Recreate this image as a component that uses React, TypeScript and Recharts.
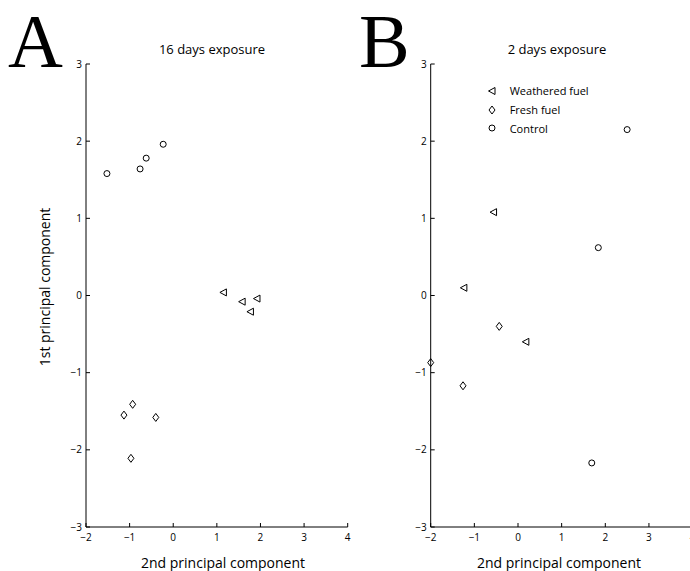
import React from 'react';
import { ScatterChart, Scatter, XAxis, YAxis, Legend } from 'recharts';

// axis ticks shared by both panels
const xTicks = [-2, -1, 0, 1, 2, 3, 4];
const yTicks = [-3, -2, -1, 0, 1, 2, 3];

// panel A - 16 days exposure
const weathered16 = [
  { x: 1.15, y: 0.04 },
  { x: 1.58, y: -0.08 },
  { x: 1.77, y: -0.21 },
  { x: 1.92, y: -0.04 },
];
const fresh16 = [
  { x: -0.93, y: -1.41 },
  { x: -1.13, y: -1.55 },
  { x: -0.4, y: -1.58 },
  { x: -0.97, y: -2.11 },
];
const control16 = [
  { x: -1.52, y: 1.58 },
  { x: -0.76, y: 1.64 },
  { x: -0.62, y: 1.78 },
  { x: -0.23, y: 1.96 },
];

// panel B - 2 days exposure
const weathered2 = [
  { x: -0.56, y: 1.08 },
  { x: -1.24, y: 0.1 },
  { x: 0.18, y: -0.6 },
];
const fresh2 = [
  { x: -0.43, y: -0.4 },
  { x: -2.0, y: -0.87 },
  { x: -1.26, y: -1.17 },
];
const control2 = [
  { x: 2.5, y: 2.15 },
  { x: 1.84, y: 0.62 },
  { x: 1.69, y: -2.17 },
];

const seriesNames = ['Weathered fuel', 'Fresh fuel', 'Control'];

const FONT = '"Open Sans", "DejaVu Sans", sans-serif';

const fmt = (v: number) => (v < 0 ? `\u2212${Math.abs(v)}` : `${v}`);

const CircleMark = ({ cx, cy }: any) => (
  <circle cx={cx} cy={cy} r={3} fill="none" stroke="#000" strokeWidth={1} />
);
const TriMark = ({ cx, cy }: any) => (
  <path
    d={`M${cx - 3.5},${cy} L${cx + 3},${cy - 3.5} L${cx + 3},${cy + 3.5} Z`}
    fill="none"
    stroke="#000"
    strokeWidth={1}
  />
);
const DiamondMark = ({ cx, cy }: any) => (
  <path
    d={`M${cx},${cy - 4} L${cx + 3},${cy} L${cx},${cy + 4} L${cx - 3},${cy} Z`}
    fill="none"
    stroke="#000"
    strokeWidth={1}
  />
);

// inward ticks, MATLAB style
const XTick = ({ x, y, payload }: any) => (
  <g>
    <line x1={x} x2={x} y1={y} y2={y - 4} stroke="#000" />
    <text x={x} y={y + 14} textAnchor="middle" fontSize={10} fontFamily={FONT} fill="#000">
      {fmt(payload.value)}
    </text>
  </g>
);
const YTick = ({ x, y, payload }: any) => (
  <g>
    <line x1={x} x2={x + 4} y1={y} y2={y} stroke="#000" />
    <text x={x - 4} y={y + 3.5} textAnchor="end" fontSize={10} fontFamily={FONT} fill="#000">
      {fmt(payload.value)}
    </text>
  </g>
);

const legendIcons: Record<string, any> = {
  'Weathered fuel': TriMark,
  'Fresh fuel': DiamondMark,
  Control: CircleMark,
};

const LegendBox = ({ payload }: any) => {
  const items = [...(payload || [])].sort(
    (a: any, b: any) => seriesNames.indexOf(a.value) - seriesNames.indexOf(b.value)
  );
  return (
    <div style={{ fontFamily: FONT, fontSize: 11 }}>
      {items.map((p: any) => {
        const Icon = legendIcons[p.value];
        return (
          <div key={p.value} style={{ display: 'flex', alignItems: 'center', height: 18.6 }}>
            <svg width={12} height={12} style={{ marginRight: 12 }}>
              <Icon cx={6} cy={6} />
            </svg>
            <span>{p.value}</span>
          </div>
        );
      })}
    </div>
  );
};

const Panel = ({ left, width, margin, weathered, fresh, control, showLegend }: any) => (
  <div style={{ position: 'absolute', left, top: 0 }}>
    <ScatterChart width={width} height={571} margin={margin}>
      <XAxis
        type="number"
        dataKey="x"
        domain={[-2, 4]}
        ticks={xTicks}
        interval={0}
        height={30}
        tickSize={0}
        tickMargin={0}
        tick={<XTick />}
        axisLine={{ stroke: '#000' }}
        tickLine={false}
      />
      <YAxis
        type="number"
        dataKey="y"
        domain={[-3, 3]}
        ticks={yTicks}
        interval={0}
        width={40}
        tickSize={0}
        tickMargin={0}
        tick={<YTick />}
        axisLine={{ stroke: '#000' }}
        tickLine={false}
      />
      <Scatter name={seriesNames[0]} data={weathered} shape={TriMark} isAnimationActive={false} />
      <Scatter name={seriesNames[1]} data={fresh} shape={DiamondMark} isAnimationActive={false} />
      <Scatter name={seriesNames[2]} data={control} shape={CircleMark} isAnimationActive={false} />
      {showLegend && (
        <Legend
          layout="vertical"
          verticalAlign="middle"
          align="center"
          content={<LegendBox />}
          wrapperStyle={{ left: 145.7, top: 81.7, width: 'auto', height: 'auto' }}
        />
      )}
    </ScatterChart>
  </div>
);

const textStyle: React.CSSProperties = {
  position: 'absolute',
  fontFamily: FONT,
  color: '#000',
  whiteSpace: 'nowrap',
  lineHeight: 1,
};

const letterStyle: React.CSSProperties = {
  position: 'absolute',
  top: -2,
  fontFamily: '"Liberation Serif", serif',
  fontSize: 76,
  lineHeight: 'normal',
  color: '#000',
};

export default function App() {
  return (
    <div
      style={{
        position: 'fixed',
        left: 0,
        top: 0,
        width: 690,
        height: 571,
        overflow: 'hidden',
        background: '#fff',
      }}
    >
      <Panel
        left={0}
        width={360}
        margin={{ top: 64, right: 12.3, bottom: 14, left: 46 }}
        weathered={weathered16}
        fresh={fresh16}
        control={control16}
        showLegend={false}
      />
      <Panel
        left={340}
        width={370}
        margin={{ top: 64, right: 17.4, bottom: 14, left: 50.7 }}
        weathered={weathered2}
        fresh={fresh2}
        control={control2}
        showLegend={true}
      />

      {/* panel letters */}
      <div style={{ ...letterStyle, left: 8 }}>A</div>
      <div style={{ ...letterStyle, left: 359 }}>B</div>

      {/* titles */}
      <div style={{ ...textStyle, left: 212, top: 43, fontSize: 13, transform: 'translateX(-50%)' }}>16 days exposure</div>
      <div style={{ ...textStyle, left: 557, top: 43, fontSize: 13, transform: 'translateX(-50%)' }}>2 days exposure</div>

      {/* axis titles */}
      <div style={{ ...textStyle, left: 223, top: 556, fontSize: 14, transform: 'translateX(-50%)' }}>2nd principal component</div>
      <div style={{ ...textStyle, left: 559, top: 556, fontSize: 14, transform: 'translateX(-50%)' }}>2nd principal component</div>
      <div
        style={{
          ...textStyle,
          left: 45,
          top: 287,
          fontSize: 14,
          transform: 'translate(-50%, -50%) rotate(-90deg)',
        }}
      >
        1st principal component
      </div>
    </div>
  );
}
